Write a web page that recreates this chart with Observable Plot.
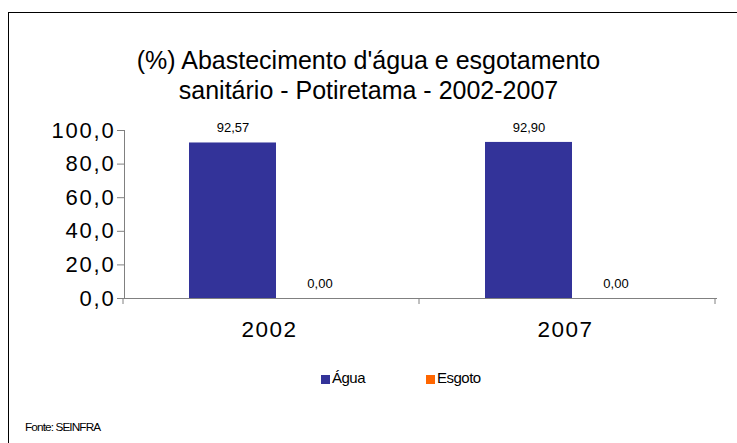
<!DOCTYPE html>
<html>
<head>
<meta charset="utf-8">
<script src="https://cdn.jsdelivr.net/npm/d3@7"></script>
<script src="https://cdn.jsdelivr.net/npm/@observablehq/plot@0.6"></script>
<style>
  html, body { margin: 0; padding: 0; background: #fff; }
  #wrap { position: relative; width: 737px; height: 443px; overflow: hidden; font-family: "Liberation Sans", Arial, sans-serif; color: #000; }
  #border { position: absolute; left: 8px; top: 12px; width: 740px; height: 440px; border-top: 1.5px solid #000; border-left: 1.5px solid #000; }
  #title { position: absolute; left: 0; width: 737px; top: 45px; text-align: center; font-size: 25px; line-height: 30px; }
  #chart { position: absolute; left: 0; top: 0; }
  #chart g[aria-label="y-axis tick label"] text { letter-spacing: 1.8px; }
  #chart g[aria-label="fx-axis tick label"] text { letter-spacing: 1.5px; }
  #legend { position: absolute; left: 0; top: 370px; width: 737px; font-size: 15px; letter-spacing: -0.5px; }
  .item { position: absolute; top: 0; line-height: 16px; }
  .sw { display: inline-block; width: 9px; height: 9px; margin-right: 2px; vertical-align: -1px; }
  #caption { position: absolute; left: 25px; top: 420px; font-size: 11.8px; letter-spacing: -0.9px; }
</style>
</head>
<body>
<div id="wrap">
  <div id="border"></div>
  <div id="title">(%) Abastecimento d'água e esgotamento<br>sanitário - Potiretama - 2002-2007</div>
  <div id="chart"></div>
  <div id="legend"></div>
  <div id="caption">Fonte: SEINFRA</div>
</div>
<script>
const years = ["2002", "2007"];
const series = ["Água", "Esgoto"];
const agua = [92.57, 92.90];
const esgoto = [0.00, 0.00];
const yTicks = [0, 20, 40, 60, 80, 100];
const colors = ["#333399", "#FF6600"];

const rows = years.flatMap((yr, i) => [
  {year: yr, series: series[0], value: agua[i]},
  {year: yr, series: series[1], value: esgoto[i]}
]);

const fmt1 = d => d.toFixed(1).replace(".", ",");
const fmt2 = d => d.toFixed(2).replace(".", ",");

const chart = Plot.plot({
  width: 737,
  height: 345,
  marginTop: 130,
  marginBottom: 47,
  marginLeft: 123,
  marginRight: 21,
  style: {fontFamily: "'Liberation Sans', Arial, sans-serif", background: "transparent", color: "#000"},
  fx: {domain: years, padding: 0, label: null},
  x: {domain: series, paddingInner: 0, paddingOuter: 0.7, align: 0.53, axis: null},
  y: {domain: [0, 100], axis: null},
  color: {domain: series, range: colors},
  marks: [
    Plot.barY(rows, {fx: "year", x: "series", y: "value", fill: "series"}),
    Plot.text(rows, {fx: "year", x: "series", y: "value", text: d => fmt2(d.value), dy: -15, fontSize: 13, fill: "#000"}),
    Plot.axisY({ticks: yTicks, tickFormat: fmt1, tickSize: 7, tickPadding: 2, fontSize: 22, label: null, stroke: "#808080", fill: "#000"}),
    Plot.axisFx({anchor: "bottom", tickSize: 0, tickPadding: 23, fontSize: 22.5, dx: -3, label: null, fill: "#000"}),
    Plot.frame({anchor: "bottom", stroke: "#808080"}),
    Plot.frame({anchor: "left", stroke: "#808080", facetAnchor: "left"})
  ]
});

// category boundary ticks on the x axis, from Plot's own scales
const fx = chart.scale("fx");
const ys = chart.scale("y");
const y0 = ys.apply(0);
const bounds = d3.range(fx.domain.length + 1).map(i => fx.range[0] + i * fx.step);
d3.select(chart).append("g")
  .attr("stroke", "#808080")
  .selectAll("line").data(bounds).join("line")
  .attr("x1", d => d).attr("x2", d => d)
  .attr("y1", y0).attr("y2", y0 + 6);

document.getElementById("chart").appendChild(chart);

// legend
const legend = d3.select("#legend");
const legendX = [321, 426];
series.forEach((s, i) => {
  const it = legend.append("div").attr("class", "item").style("left", legendX[i] + "px");
  it.append("span").attr("class", "sw").style("background", colors[i]);
  it.append("span").text(s);
});
</script>
</body>
</html>
